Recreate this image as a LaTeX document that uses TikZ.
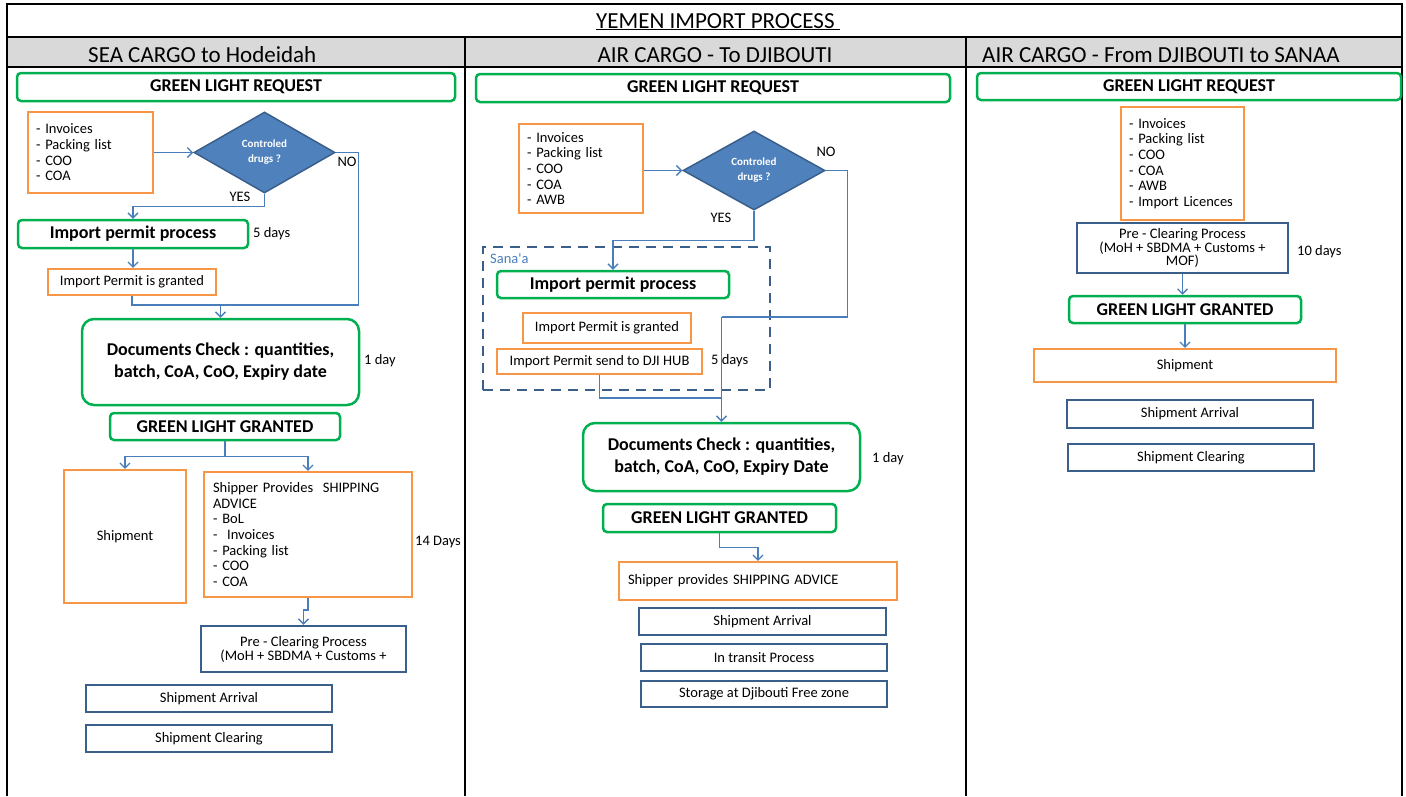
\documentclass[tikz,border=0pt]{standalone}
\usepackage{fontspec}
\setmainfont{Carlito}
\usepackage{tikz}
\usetikzlibrary{shapes.geometric,arrows.meta}

\definecolor{glgreen}{HTML}{00B050}
\definecolor{dorange}{HTML}{F79646}
\definecolor{dblue}{HTML}{3A5F8B}
\definecolor{lblue}{HTML}{4F81BD}
\definecolor{ablue}{HTML}{4A7EBB}
\definecolor{hgray}{HTML}{D9D9D9}

\begin{document}
\begin{tikzpicture}[x=1pt,y=-1pt,
	every node/.style={inner sep=0pt},
	wh/.style 2 args={minimum width=#1pt,minimum height=#2pt},
	smalltxt/.style={font=\fontsize{14.5}{15.7}\selectfont},
	gbox/.style={draw=glgreen,line width=2.5pt,rounded corners=4pt,font=\fontsize{18}{22}\selectfont\bfseries},
	obox/.style={draw=dorange,line width=2.2pt,smalltxt},
	bbox/.style={draw=dblue,line width=2.5pt,smalltxt},
	lst/.style={obox,align=left,text width=#1pt,inner xsep=8pt},
	ques/.style={diamond,draw=dblue,line width=1.5pt,fill=lblue,text=white,align=center,font=\fontsize{11}{15}\selectfont\bfseries},
	arr/.style={draw=ablue,line width=1.3pt,-{Straight Barb[length=5pt,width=10pt]}},
	lnk/.style={draw=ablue,line width=1.3pt},
	daylbl/.style={smalltxt,anchor=west},
	hdr/.style={font=\fontsize{23}{27}\selectfont,anchor=base}]
	\useasboundingbox (0,0) rectangle (1406,796);
	\fill[hgray] (7,37) rectangle (1402,67);
	\draw[line width=1.2pt] (7,796) -- (7,4) -- (1402,4) -- (1402,796);
	\draw[line width=1.2pt] (7,37) -- (1402,37) (7,67) -- (1402,67);
	\draw[line width=1.2pt] (465,37) -- (465,796) (966,37) -- (966,796);
	\node[hdr] (title) at (718,28) {\underline{YEMEN IMPORT PROCESS~}};
	\node[hdr,anchor=base west] (hsea) at (88,62) {SEA CARGO to Hodeidah};
	\node[hdr] (hdji) at (715,62) {AIR CARGO - To DJIBOUTI};
	\node[hdr,anchor=base west] (hsan) at (982,62) {AIR CARGO - From DJIBOUTI to SANAA};

	\node[gbox,wh={438}{28}] (glr1) at (236,87) {GREEN LIGHT REQUEST};
	\node[lst=109,wh={125}{81}] (doc1) at (90.5,152.5) {- Invoices\\- Packing list\\- COO\\- COA};
	\node[ques,wh={141}{81}] (drg1) at (264.5,152.5) {Controled\\drugs ?};
	\node[gbox,wh={230}{28}] (ipp1) at (133,234) {Import permit process};
	\node[obox,wh={168}{26}] (ipg1) at (132,282) {Import Permit is granted};
	\node[gbox,rounded corners=12pt,wh={277}{86},align=center] (chk1) at (220.5,362) {Documents Check : quantities,\\batch, CoA, CoO, Expiry date};
	\node[gbox,wh={230}{27}] (glg1) at (225,426.5) {GREEN LIGHT GRANTED};
	\node[obox,wh={122}{133}] (shp1) at (125,536.5) {Shipment};
	\node[lst=190,inner xsep=9pt,wh={208}{125}] (adv1) at (308,534.5) {Shipper Provides \ SHIPPING\\ADVICE\\- BoL\\- \ Invoices\\- Packing list\\- COO\\- COA};
	\node[bbox,wh={205}{46},align=center,font=\fontsize{14.5}{14}\selectfont] (pre1) at (303.5,649) {Pre - Clearing Process\\(MoH + SBDMA + Customs +};
	\node[bbox,wh={246}{27}] (arr1) at (209,698.5) {Shipment Arrival};
	\node[bbox,wh={246}{27}] (clr1) at (209,738.5) {Shipment Clearing};
	\node[smalltxt] (yes1) at (240,197) {YES};
	\node[smalltxt] (no1) at (347,162) {NO};
	\node[daylbl] (dfive1) at (253,234) {5 days};
	\node[daylbl] (done1) at (364,361) {1 day};
	\node[daylbl] (dfourteen1) at (415,542) {14 Days};
	\coordinate (jn1) at (220.5,305);
	\draw[arr] (doc1.east) -- (drg1.west);
	\draw[arr] (drg1.south) -- ++(0,13) -| (ipp1.north);
	\draw[lnk] (drg1.east) -- ++(23,0) |- (jn1);
	\draw[arr] (ipp1.south) -- (ipp1.south |- ipg1.north);
	\draw[arr] (ipg1.south) |- (jn1) -- (chk1.north);
	\draw[arr] (glg1.south) -- ++(0,15) -| (shp1.north);
	\draw[arr] (glg1.south) -- ++(0,15) -| (adv1.north);
	\draw[arr] (adv1.south) -- ++(0,12) -| (pre1.north);

	\node[gbox,wh={474}{28}] (glr2) at (713,88) {GREEN LIGHT REQUEST};
	\node[lst=108,wh={124}{89}] (doc2) at (581,168.5) {- Invoices\\- Packing list\\- COO\\- COA\\- AWB};
	\node[ques,wh={142}{79}] (drg2) at (754,170.5) {Controled\\drugs ?};
	\node[draw=dblue,line width=2.5pt,dash pattern=on 10pt off 7pt,wh={287}{143}] (sana) at (626.5,318.5) {};
	\node[smalltxt,text=ablue,anchor=north west] (sanalbl) at (490,254) {Sana\textquotesingle a};
	\node[gbox,wh={232}{27}] (ipp2) at (613,284.5) {Import permit process};
	\node[obox,wh={168}{30}] (ipg2) at (607,328) {Import Permit is granted};
	\node[obox,wh={205}{25}] (snd2) at (599.5,361.5) {Import Permit send to DJI HUB};
	\node[gbox,rounded corners=12pt,wh={277}{68},align=center] (chk2) at (721.5,457) {Documents Check : quantities,\\batch, CoA, CoO, Expiry Date};
	\node[gbox,wh={233}{28}] (glg2) at (719.5,518) {GREEN LIGHT GRANTED};
	\node[lst=260,inner xsep=9pt,wh={278}{38}] (adv2) at (758,581) {Shipper provides SHIPPING ADVICE};
	\node[bbox,wh={247}{27}] (arr2) at (762.5,621.5) {Shipment Arrival};
	\node[bbox,wh={246}{27}] (trn2) at (764,657.5) {In transit Process};
	\node[bbox,wh={246}{26}] (sto2) at (764,694) {Storage at Djibouti Free zone};
	\node[smalltxt] (yes2) at (721,218) {YES};
	\node[smalltxt] (no2) at (826,152) {NO};
	\node[daylbl] (dfive2) at (711,361) {5 days};
	\node[daylbl] (done2) at (872,459) {1 day};
	\coordinate (jn2) at (721.5,317);
	\coordinate (jn3) at (721.5,398);
	\draw[arr] (doc2.east |- drg2.west) -- (drg2.west);
	\draw[arr] (drg2.south) -- ++(0,30) -| (ipp2.north);
	\draw[lnk] (drg2.east) -- ++(22,0) |- (jn2);
	\draw[lnk] (snd2.south) |- (jn3);
	\draw[arr] (jn2) -- (chk2.north);
	\draw[arr] (glg2.south) -- ++(0,14) -| (adv2.north);

	\node[gbox,wh={424}{27}] (glr3) at (1189,86.5) {GREEN LIGHT REQUEST};
	\node[lst=107,wh={123}{113}] (doc3) at (1182.5,163.5) {- Invoices\\- Packing list\\- COO\\- COA\\- AWB\\- Import Licences};
	\node[bbox,wh={211}{50},align=center,font=\fontsize{14.5}{13}\selectfont] (pre3) at (1182.5,248) {Pre - Clearing Process\\(MoH + SBDMA + Customs +\\MOF)};
	\node[gbox,wh={232}{27}] (glg3) at (1185,309.5) {GREEN LIGHT GRANTED};
	\node[obox,wh={302}{33}] (shp3) at (1185,365.5) {Shipment};
	\node[bbox,wh={246}{28}] (arr3) at (1190,414) {Shipment Arrival};
	\node[bbox,wh={246}{27}] (clr3) at (1191,457.5) {Shipment Clearing};
	\node[daylbl] (dten3) at (1297,252) {10 days};
	\draw[arr] (pre3.south) -- (pre3.south |- glg3.north);
	\draw[arr] (glg3.south) -- (glg3.south |- shp3.north);
\end{tikzpicture}
\end{document}
